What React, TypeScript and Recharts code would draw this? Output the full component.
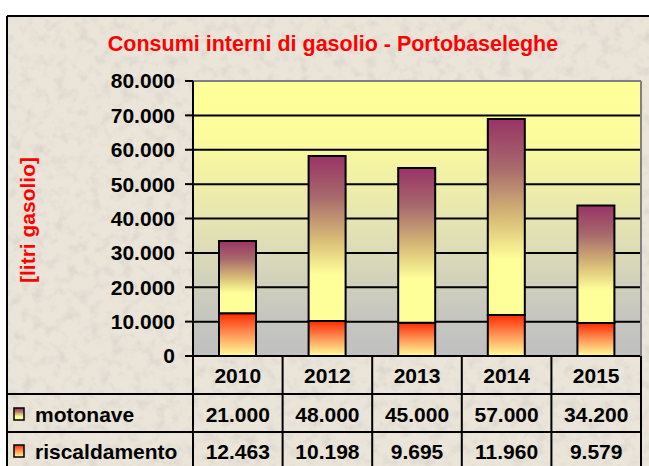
import React from 'react';
import {
  BarChart,
  Bar,
  XAxis,
  YAxis,
  CartesianGrid,
  ReferenceLine,
} from 'recharts';

const years = ['2010', '2012', '2013', '2014', '2015'];
const motonave = [21000, 48000, 45000, 57000, 34200];
const riscaldamento = [12463, 10198, 9695, 11960, 9579];
const yTicks = [0, 10000, 20000, 30000, 40000, 50000, 60000, 70000, 80000];

const data = years.map((year, i) => ({
  year,
  motonave: motonave[i],
  riscaldamento: riscaldamento[i],
}));

const W = 649;
const H = 466;
const PLOT_LEFT = 193;
const PLOT_TOP = 81;
const RIGHT_AXIS = 8;
const X_AXIS_H = 110;
const PLOT_BOTTOM = H - X_AXIS_H;
const BAND = (W - PLOT_LEFT - RIGHT_AXIS) / years.length;
const ROW1 = 394;
const ROW2 = 432;
const FRAME_X = 7;
const FONT = "'Liberation Sans', Arial, Helvetica, sans-serif";

// 12463 -> "12.463"
const fmt = (n: number) => String(n).replace(/\B(?=(\d{3})+(?!\d))/g, '.');

const cellText = {
  fontFamily: FONT,
  fontSize: 21,
  fontWeight: 700,
  fill: '#000',
  textAnchor: 'middle' as const,
  dominantBaseline: 'central' as const,
};

// each x tick draws one column of the data table under the plot
function TableColumn(props: any) {
  const { x, payload, index } = props;
  const left = x - BAND / 2;
  const right = x + BAND / 2;
  const i = index as number;
  const line = { stroke: '#000', strokeWidth: 2 };
  return (
    <g>
      <line x1={right} y1={PLOT_BOTTOM} x2={right} y2={H} {...line} />
      <line x1={left} y1={ROW1} x2={right} y2={ROW1} {...line} />
      <line x1={left} y1={ROW2} x2={right} y2={ROW2} {...line} />
      <text x={x} y={375} {...cellText}>{payload.value}</text>
      <text x={x} y={414} {...cellText}>{fmt(motonave[i])}</text>
      <text x={x} y={451} {...cellText}>{fmt(riscaldamento[i])}</text>
      {i === 0 && (
        <g>
          <line x1={left} y1={PLOT_BOTTOM} x2={left} y2={H} {...line} />
          <line x1={FRAME_X} y1={ROW1} x2={left} y2={ROW1} {...line} />
          <line x1={FRAME_X} y1={ROW2} x2={left} y2={ROW2} {...line} />
          <rect x={14} y={408} width={10} height={12} fill="url(#gradMoto)" stroke="#000" strokeWidth={1.5} />
          <text x={35} y={414} {...cellText} textAnchor="start">motonave</text>
          <rect x={14} y={445} width={10} height={12} fill="url(#gradRisc)" stroke="#000" strokeWidth={1.5} />
          <text x={35} y={451} {...cellText} textAnchor="start">riscaldamento</text>
        </g>
      )}
    </g>
  );
}

export default function App() {
  return (
    <div style={{ position: 'absolute', left: 0, top: 0, width: W, height: H, overflow: 'hidden', background: '#fff' }}>
      <svg width={W} height={H} style={{ position: 'absolute', left: 0, top: 0 }}>
        <defs>
          <filter id="paper" x="0" y="0" width="100%" height="100%">
            <feTurbulence type="fractalNoise" baseFrequency="0.09" numOctaves={3} seed={7} />
            <feColorMatrix
              type="matrix"
              values="0 0 0 0 0.55  0 0 0 0 0.52  0 0 0 0 0.48  1.8 0 0 0 -0.85"
            />
          </filter>
        </defs>
        <rect x={FRAME_X} y={16} width={W} height={H} fill="#EAE4D9" />
        <rect x={FRAME_X} y={16} width={W} height={H} filter="url(#paper)" opacity={0.5} />
        <line x1={FRAME_X} y1={16} x2={W} y2={16} stroke="#000" strokeWidth={2} />
        <line x1={FRAME_X} y1={16} x2={FRAME_X} y2={H} stroke="#000" strokeWidth={2} />
      </svg>

      <div
        style={{
          position: 'absolute',
          left: 0,
          width: 666,
          top: 30,
          textAlign: 'center',
          fontFamily: FONT,
          fontSize: 21.5,
          fontWeight: 700,
          color: '#FF0000',
          lineHeight: '28px',
        }}
      >
        Consumi interni di gasolio - Portobaseleghe
      </div>
      <div
        style={{
          position: 'absolute',
          left: 28,
          top: 220,
          transform: 'translate(-50%, -50%) rotate(-90deg)',
          whiteSpace: 'nowrap',
          fontFamily: FONT,
          fontSize: 21,
          fontWeight: 700,
          color: '#FF0000',
          lineHeight: '24px',
        }}
      >
        [litri gasolio]
      </div>

      <div style={{ position: 'absolute', left: 0, top: 0 }}>
        <BarChart
          width={W}
          height={H}
          data={data}
          margin={{ top: PLOT_TOP, right: 0, bottom: 0, left: 0 }}
          barSize={37}
        >
          <defs>
            <linearGradient id="plotBg" x1="0" y1="0" x2="0" y2="1">
              <stop offset="0" stopColor="#FFFF99" />
              <stop offset="0.2" stopColor="#FCFC9C" />
              <stop offset="0.55" stopColor="#E2E1B4" />
              <stop offset="0.85" stopColor="#C6C6C0" />
              <stop offset="1" stopColor="#C0C0C0" />
            </linearGradient>
            <linearGradient id="gradMoto" x1="0" y1="0" x2="0" y2="1">
              <stop offset="0" stopColor="#993366" />
              <stop offset="0.25" stopColor="#A86A6C" />
              <stop offset="0.5" stopColor="#D6BA76" />
              <stop offset="0.72" stopColor="#FFFF99" />
              <stop offset="1" stopColor="#FFFF99" />
            </linearGradient>
            <linearGradient id="gradRisc" x1="0" y1="0" x2="0" y2="1">
              <stop offset="0" stopColor="#FF2A00" />
              <stop offset="0.45" stopColor="#FF8C52" />
              <stop offset="1" stopColor="#FFFF99" />
            </linearGradient>
          </defs>
          <CartesianGrid
            vertical={false}
            stroke="#000"
            strokeWidth={2}
            fill="url(#plotBg)"
            fillOpacity={1}
          />
          <XAxis
            dataKey="year"
            height={X_AXIS_H}
            interval={0}
            tickLine={false}
            axisLine={{ stroke: '#000', strokeWidth: 2 }}
            tick={<TableColumn />}
          />
          <YAxis
            width={PLOT_LEFT}
            domain={[0, 80000]}
            ticks={yTicks}
            interval={0}
            tickFormatter={fmt}
            tickSize={8}
            tickMargin={10}
            axisLine={{ stroke: '#000', strokeWidth: 2 }}
            tickLine={{ stroke: '#000', strokeWidth: 2 }}
            tick={{ fill: '#000', fontSize: 21, fontWeight: 700, fontFamily: FONT }}
          />
          <YAxis
            yAxisId="right"
            orientation="right"
            width={RIGHT_AXIS}
            tick={false}
            tickLine={false}
            axisLine={{ stroke: '#808080', strokeWidth: 2 }}
          />
          <ReferenceLine y={80000} stroke="#808080" strokeWidth={2} />
          <Bar
            dataKey="riscaldamento"
            stackId="a"
            fill="url(#gradRisc)"
            stroke="#000"
            strokeWidth={2}
            isAnimationActive={false}
          />
          <Bar
            dataKey="motonave"
            stackId="a"
            fill="url(#gradMoto)"
            stroke="#000"
            strokeWidth={2}
            isAnimationActive={false}
          />
        </BarChart>
      </div>
    </div>
  );
}
